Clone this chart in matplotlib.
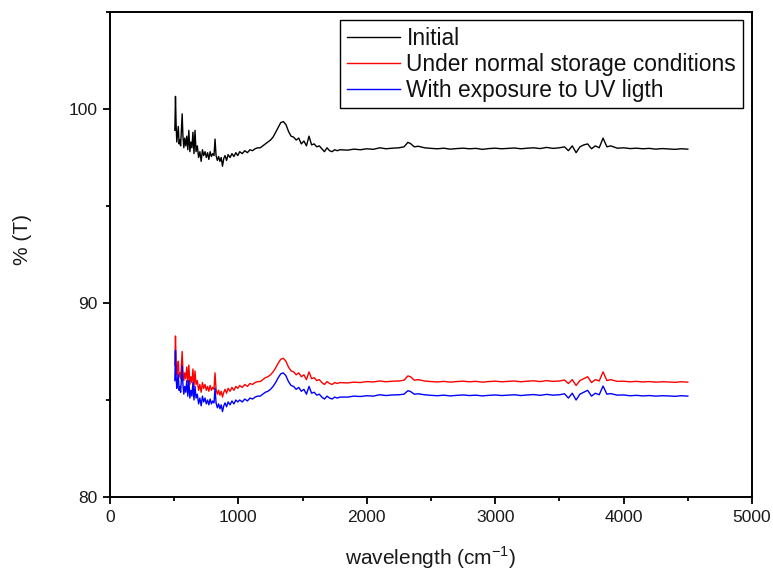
import matplotlib
matplotlib.use("Agg")
import matplotlib.pyplot as plt
from matplotlib.ticker import MultipleLocator

plt.rcParams['font.family'] = ['Liberation Sans', 'DejaVu Sans']

# ---- data ----
wavenumber = [
    505, 510, 515, 520, 526, 532, 538, 544, 550, 556, 562, 568, 575, 582, 590, 598, 606, 614, 622, 630,
    638, 646, 654, 662, 670, 680, 690, 700, 710, 720, 730, 740, 750, 760, 770, 780, 790, 800, 810, 818,
    826, 836, 846, 856, 866, 876, 886, 896, 908, 920, 935, 950, 965, 980, 995,
    1010, 1030, 1050, 1070, 1090, 1110, 1130, 1150, 1170, 1190, 1210, 1230, 1250, 1270, 1290, 1310, 1330, 1350, 1370, 1390,
    1410, 1430, 1450, 1470, 1490, 1510, 1530, 1550, 1570, 1590, 1610, 1630, 1650, 1670, 1690, 1710, 1730, 1750, 1770, 1790,
    1850, 1900, 1950, 2000, 2050, 2100, 2150, 2200, 2250, 2290, 2320, 2340, 2370,
    2400, 2450, 2500, 2550, 2600, 2650, 2700, 2750, 2800, 2850, 2900, 2950, 3000, 3050, 3100, 3150, 3200, 3250, 3300, 3350, 3400, 3450, 3500,
    3540, 3570, 3600, 3630, 3660, 3690, 3720, 3750, 3780, 3810, 3840, 3870,
    3900, 3950, 4000, 4050, 4100, 4150, 4200, 4250, 4300, 4350, 4400, 4450, 4500,
]

initial = [
    98.9, 100.65, 99.2, 98.3, 98.7, 99.1, 98.2, 98.4, 98.1, 98.9, 99.75, 98.6, 98.0, 98.5, 98.1, 98.6, 97.9, 98.9, 97.8, 98.3,
    98.0, 98.8, 97.7, 98.9, 97.8, 98.1, 97.5, 97.8, 97.3, 97.9, 97.6, 97.8, 97.5, 97.75, 97.4, 97.8, 97.55, 97.7, 97.6, 98.45,
    97.6, 97.35, 97.55, 97.3, 97.5, 97.05, 97.45, 97.6, 97.35, 97.65, 97.5, 97.7, 97.55, 97.75, 97.6,
    97.8, 97.7, 97.85, 97.75, 97.9, 97.85, 97.95, 98.0, 98.0, 98.1, 98.2, 98.3, 98.4, 98.55, 98.8, 99.05, 99.3, 99.35, 99.2, 98.85,
    98.6, 98.55, 98.4, 98.5, 98.2, 98.35, 98.1, 98.6, 98.15, 98.2, 98.05, 98.1, 97.95, 97.8, 98.0, 97.85, 97.8, 97.9, 97.85, 97.9,
    97.88, 97.93, 97.9, 97.95, 97.92, 98.0, 97.95, 97.98, 98.0, 98.05, 98.28, 98.22, 98.05,
    98.08, 98.0, 97.97, 97.95, 97.98, 97.93, 97.96, 97.98, 97.95, 97.97, 97.92, 97.96, 97.98, 97.95, 97.97, 97.99, 97.95, 97.98, 98.0, 97.96, 98.02, 97.97, 98.0,
    98.05, 97.85, 98.1, 97.75, 98.05, 98.15, 98.2, 97.95, 98.1, 98.0, 98.5, 98.05,
    98.1, 97.98, 98.0, 97.96, 97.98, 97.95, 97.97, 97.93, 97.96, 97.94, 97.92, 97.95, 97.93,
]

normal_storage = [
    86.8, 88.3, 86.9, 86.3, 86.6, 87.0, 86.2, 86.4, 86.1, 86.8, 87.5, 86.5, 86.0, 86.4, 86.1, 86.7, 85.9, 86.8, 85.8, 86.2,
    85.9, 86.6, 85.7, 86.5, 85.8, 86.0, 85.5, 85.8, 85.4, 85.9, 85.6, 85.8, 85.5, 85.7, 85.45, 85.75, 85.5, 85.65, 85.55, 86.4,
    85.55, 85.3, 85.5, 85.25, 85.45, 85.15, 85.4, 85.55, 85.35, 85.6, 85.45, 85.65, 85.5, 85.7, 85.6,
    85.75, 85.65, 85.8, 85.7, 85.85, 85.8, 85.9, 85.95, 85.95, 86.05, 86.15, 86.2, 86.3, 86.45, 86.65, 86.9, 87.1, 87.15, 87.0, 86.7,
    86.5, 86.45, 86.3, 86.4, 86.2, 86.3, 86.05, 86.45, 86.1, 86.15, 86.0, 86.05, 85.9, 85.8, 85.95, 85.85, 85.8, 85.9, 85.85, 85.9,
    85.88, 85.92, 85.9, 85.95, 85.93, 85.98, 85.94, 85.97, 85.98, 86.02, 86.24, 86.2, 86.02,
    86.05, 85.98, 85.95, 85.93, 85.96, 85.92, 85.95, 85.97, 85.94, 85.96, 85.92, 85.95, 85.97, 85.94, 85.96, 85.98, 85.94, 85.97, 85.99, 85.95, 86.0, 85.96, 85.98,
    86.03, 85.85, 86.05, 85.75, 86.0, 86.1, 86.2, 85.9, 86.05, 85.98, 86.45, 86.0,
    86.05, 85.96, 85.97, 85.94, 85.96, 85.93, 85.95, 85.92, 85.94, 85.93, 85.91, 85.94, 85.92,
]

uv_exposure = [
    86.0, 87.55, 86.2, 85.6, 85.9, 86.3, 85.5, 85.7, 85.4, 86.1, 86.75, 85.8, 85.3, 85.7, 85.4, 86.0, 85.2, 86.0, 85.1, 85.5,
    85.2, 85.9, 85.0, 85.7, 85.1, 85.3, 84.8, 85.1, 84.7, 85.2, 84.9, 85.1, 84.8, 85.0, 84.75, 85.05, 84.8, 84.95, 84.85, 85.6,
    84.85, 84.6, 84.8, 84.55, 84.75, 84.4, 84.7, 84.85, 84.65, 84.9, 84.75, 84.95, 84.8, 85.0, 84.9,
    85.0, 84.9, 85.05, 84.95, 85.1, 85.05, 85.15, 85.2, 85.2, 85.3, 85.4, 85.45, 85.55, 85.7, 85.9, 86.15, 86.35, 86.4, 86.25, 85.95,
    85.75, 85.7, 85.55, 85.65, 85.45, 85.55, 85.3, 85.7, 85.35, 85.4, 85.25, 85.3, 85.15, 85.05, 85.2, 85.1, 85.05, 85.15, 85.1, 85.15,
    85.15, 85.2, 85.18, 85.22, 85.2, 85.27, 85.23, 85.26, 85.27, 85.3, 85.48, 85.44, 85.3,
    85.32, 85.27, 85.24, 85.22, 85.25, 85.21, 85.24, 85.26, 85.23, 85.25, 85.21, 85.24, 85.26, 85.23, 85.25, 85.27, 85.23, 85.26, 85.28, 85.24, 85.29, 85.25, 85.27,
    85.32, 85.1, 85.35, 85.0, 85.3, 85.4, 85.5, 85.2, 85.35, 85.27, 85.72, 85.3,
    85.33, 85.25, 85.26, 85.22, 85.24, 85.21, 85.23, 85.2, 85.22, 85.21, 85.19, 85.22, 85.2,
]

series_labels = ["Initial", "Under normal storage conditions", "With exposure to UV ligth"]
series_colors = ["#000000", "#FF0000", "#0000FF"]
x_ticks = [0, 1000, 2000, 3000, 4000, 5000]
y_ticks = [80, 90, 100]

# ---- figure ----
fig = plt.figure(figsize=(7.73, 5.75), dpi=100)
ax = fig.add_axes([110 / 773, 1 - 497 / 575, 642 / 773, 485 / 575])

for ys, lab, col in zip([initial, normal_storage, uv_exposure], series_labels, series_colors):
    ax.plot(wavenumber, ys, color=col, lw=1.0, label=lab)

ax.set_xlim(0, 5000)
ax.set_ylim(80, 105)
ax.set_xticks(x_ticks)
ax.set_yticks(y_ticks)
ax.xaxis.set_minor_locator(MultipleLocator(500))
ax.yaxis.set_minor_locator(MultipleLocator(5))

ax.tick_params(which='major', direction='out', length=5, width=1.3, labelsize=12.5, pad=4,
               top=False, right=False, labelcolor='#1a1a1a')
ax.tick_params(which='minor', direction='out', length=3, width=1.3, top=False, right=False)
for s in ax.spines.values():
    s.set_linewidth(1.4)

ax.set_xlabel("wavelength (cm$^{\\mathregular{-1}}$)", fontsize=15, labelpad=14, color='#1a1a1a')
ax.set_ylabel("% (T)", fontsize=15, color='#1a1a1a')
ax.yaxis.set_label_coords(-0.122, 0.53)

leg = ax.legend(loc='upper right', bbox_to_anchor=(0.986, 0.983), borderaxespad=0,
                fancybox=False, edgecolor='black', framealpha=1, fontsize=16.4,
                handlelength=2.3, handletextpad=0.3, labelspacing=0.12, borderpad=0.3)
leg.get_frame().set_linewidth(1.0)
for t in leg.get_texts():
    t.set_color('#111111')

fig.savefig("out.png", dpi=100)
